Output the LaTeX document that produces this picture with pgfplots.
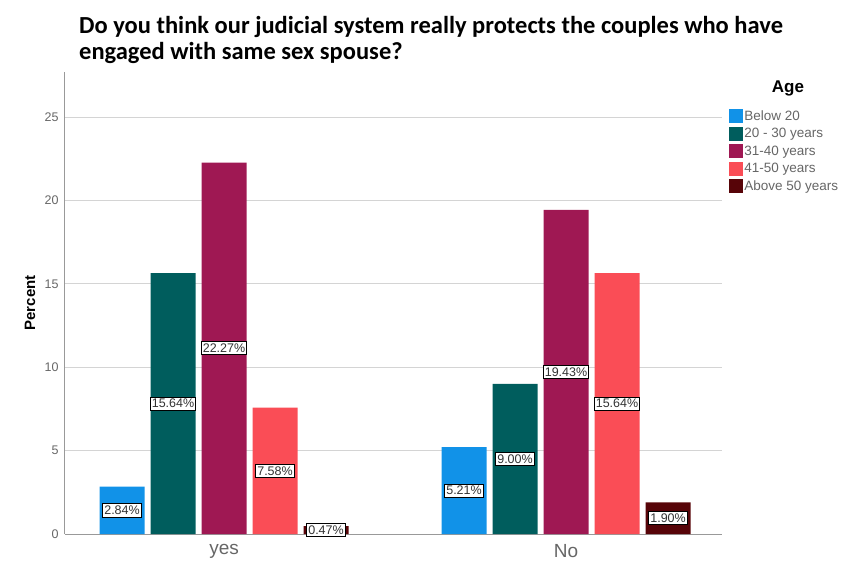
\documentclass[border=0pt]{standalone}
\usepackage{pgfplots}
\usepackage{pgfplotstable}
\pgfplotsset{compat=1.18}
\usepackage{fontspec}
\setmainfont{Liberation Sans}
\newfontfamily\titlefont{Carlito}
\definecolor{cA}{HTML}{1192E8}
\definecolor{cB}{HTML}{005D5D}
\definecolor{cC}{HTML}{9F1853}
\definecolor{cD}{HTML}{FA4D56}
\definecolor{cE}{HTML}{570408}
\definecolor{txtgray}{HTML}{666666}
\pgfplotstableread{
x below y2030 y3140 y4150 above
0 2.84 15.64 22.27 7.58 0.47
1 5.21 9.00 19.43 15.64 1.90
}\datatable
\begin{document}
\begin{tikzpicture}
\useasboundingbox (0,0) rectangle (849pt,560pt);
\begin{axis}[
  /pgf/number format/assume math mode=true,
  at={(65pt,26pt)}, anchor=south west,
  scale only axis, width=657pt, height=462pt,
  xmin=-0.465, xmax=1.456, ymin=0, ymax=27.7,
  ybar=6pt, bar width=45pt,
  xtick={0,1}, xticklabels={yes,No},
  ytick={0,5,10,15,20,25},
  major tick length=0pt,
  axis x line*=bottom, axis y line*=left,
  axis line style={-, draw=black!40, line width=1pt},
  ymajorgrids, grid style={draw=black!17, line width=1pt},
  clip=false,
  ylabel={Percent},
  every axis y label/.style={at={(rel axis cs:0,0.5)}, xshift=-35pt, rotate=90, anchor=center, font=\bfseries\fontsize{15}{15}\selectfont},
  yticklabel style={font=\fontsize{12.5}{12.5}\selectfont, text=txtgray, xshift=-3pt},
  xticklabel style={font=\fontsize{19}{19}\selectfont, text=txtgray, yshift=-7pt},
  title={Do you think our judicial system really protects the couples who have\\engaged with same sex spouse?},
  title style={at={(rel axis cs:0,1)}, anchor=south west, xshift=14pt, yshift=2pt, inner sep=0pt, align=left, font=\titlefont\bfseries\fontsize{24.5}{26}\selectfont},
  visualization depends on=y \as \rawy,
  nodes near coords={\pgfmathprintnumber[fixed,fixed zerofill,precision=2]{\pgfplotspointmeta}\%},
  every node near coord/.append style={anchor=center, shift={(axis direction cs:0,-\rawy/2)}, fill=white, draw=black, line width=0.8pt, inner xsep=1.5pt, inner ysep=2.2pt, text=black!80, font=\fontsize{12.5}{12.5}\selectfont},
  legend cell align=left,
  legend image code/.code={\fill[#1,draw=none] (0pt,-7pt) rectangle (14pt,7pt);},
  legend style={at={(rel axis cs:1.0106,0.92)}, anchor=north west, draw=none, fill=none, font=\fontsize{13.5}{14}\selectfont, text=txtgray, row sep=3.5pt, inner sep=0pt, nodes={inner sep=1.2pt}},
]
\addplot[fill=cA, draw=none] table[x=x, y=below] {\datatable};
\addplot[fill=cB, draw=none] table[x=x, y=y2030] {\datatable};
\addplot[fill=cC, draw=none] table[x=x, y=y3140] {\datatable};
\addplot[fill=cD, draw=none] table[x=x, y=y4150] {\datatable};
\addplot[fill=cE, draw=none] table[x=x, y=above] {\datatable};
\legend{Below 20, 20 - 30 years, 31-40 years, 41-50 years, Above 50 years}
\node[font=\bfseries\fontsize{17}{17}\selectfont, anchor=center] at (rel axis cs:1.1005,0.965) {Age};
\end{axis}
\end{tikzpicture}
\end{document}
